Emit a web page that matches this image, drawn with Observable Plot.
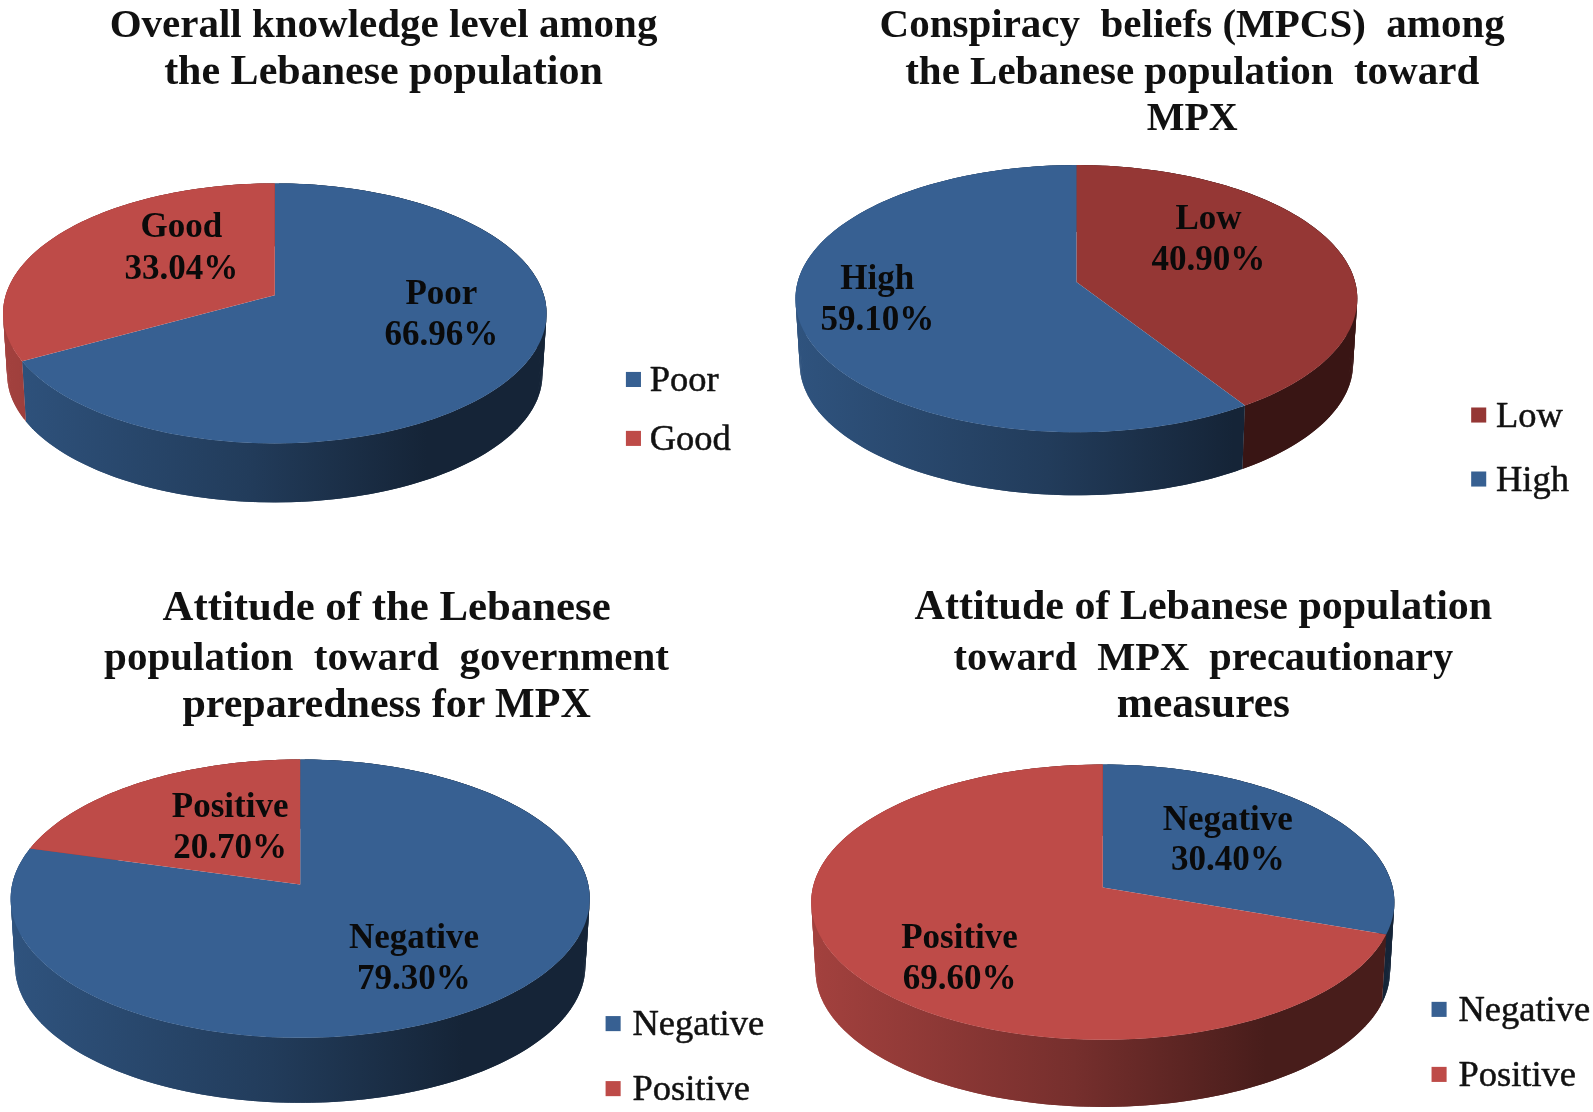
<!DOCTYPE html>
<html><head><meta charset="utf-8">
<script src="https://cdn.jsdelivr.net/npm/d3@7"></script>
<script src="https://cdn.jsdelivr.net/npm/@observablehq/plot@0.6"></script>
<style>html,body{margin:0;padding:0;background:#fff}svg{display:block;filter:blur(.7px)}</style>
</head><body><script>
// ---- data ----
const knowledgeCats = ["Poor", "Good"];
const knowledgeVals = [66.96, 33.04];
const conspiracyCats = ["Low", "High"];
const conspiracyVals = [40.90, 59.10];
const governmentCats = ["Negative", "Positive"];
const governmentVals = [79.30, 20.70];
const precautionCats = ["Negative", "Positive"];
const precautionVals = [30.40, 69.60];
const titles = [
  ["Overall knowledge level among", "the Lebanese population"],
  ["Conspiracy  beliefs (MPCS)  among", "the Lebanese population  toward", "MPX"],
  ["Attitude of the Lebanese", "population  toward  government", "preparedness for MPX"],
  ["Attitude of Lebanese population", "toward  MPX  precautionary", "measures"]
];
// ---- layout (in a 1568-wide design space) ----
const W = 1568, H = 1094.5;
const BLUE = "#376092", RED = "#be4b48", DARKRED = "#953735";
const layout = [
  {cats: knowledgeCats, vals: knowledgeVals, colors: [BLUE, RED],
   left: 2, right: 537, top: 180, ax: 270, ay: 290, front: 436, bottom: 494,
   titleX: 377, titleY: [23, 69], titleSize: [41, 42],
   labels: [[434, 288, 328], [178, 222, 263]],
   swatchX: 623, textX: 639, legendY: [373, 431], legendOrder: [0, 1]},
  {cats: conspiracyCats, vals: conspiracyVals, colors: [DARKRED, BLUE],
   left: 782, right: 1335, top: 162, ax: 1059, ay: 277, front: 425, bottom: 487,
   titleX: 1173, titleY: [23, 69, 115], titleSize: [41, 41, 40],
   labels: [[1189, 214, 254], [863, 273, 313]],
   swatchX: 1455, textX: 1472, legendY: [408, 471], legendOrder: [0, 1]},
  {cats: governmentCats, vals: governmentVals, colors: [BLUE, RED],
   left: 10, right: 580, top: 747, ax: 295, ay: 870, front: 1021, bottom: 1085,
   titleX: 380, titleY: [596, 646, 692], titleSize: [42.8, 41, 42],
   labels: [[407, 922, 962], [226, 793, 833]],
   swatchX: 603, textX: 622, legendY: [1007, 1071], legendOrder: [0, 1]},
  {cats: precautionCats, vals: precautionVals, colors: [BLUE, RED],
   left: 798, right: 1372, top: 752, ax: 1085, ay: 873, front: 1023, bottom: 1089,
   titleX: 1184, titleY: [596, 646, 692], titleSize: [42, 40.4, 43.5],
   labels: [[1208, 805, 845], [944, 922, 962]],
   swatchX: 1416, textX: 1435, legendY: [993, 1057], legendOrder: [0, 1]}
];
const wallStops = [[0, .86], [.45, .62], [.78, .38], [1, .38]];
const ringShrink = .985;

// perspective projection of a point on the pie's rim
function projector(p) {
  const up = p.ay - p.top, down = p.front - p.ay;
  const k = (down - up) / (down + up), B = up * (1 + k);
  const A = (p.right - p.left) / 2 * Math.sqrt(1 - k * k);
  const depth = p.bottom - p.ay - ringShrink * down;
  return (deg, lower) => {
    const t = deg * Math.PI / 180, u = Math.sin(t), v = Math.cos(t), w = 1 + k * v;
    const s = lower ? ringShrink : 1;
    return {x: p.ax + s * A * u / w, y: p.ay + (lower ? depth : 0) - s * B * v / w};
  };
}
const gradients = [];
const walls = [], faces = [];
layout.forEach((p, pi) => {
  const proj = projector(p);
  const total = d3.sum(p.vals);
  let a0 = 0;
  p.vals.forEach((val, i) => {
    const a1 = a0 + val / total * 360;
    const angles = d3.range(a0, a1, 1).concat([a1]);
    const id = `wall-${pi}-${i}`;
    gradients.push({id, color: p.colors[i], x1: p.left, x2: p.right});
    // the wall is a run of small overlapping quads, so that it also fills the silhouette
    const quads = d3.range(angles.length - 1).flatMap(q => {
      const s = angles[q], e = angles[Math.min(q + 2, angles.length - 1)];
      return [proj(s, false), proj(e, false), proj(e, true), proj(s, true), proj(s, false)].map(pt => ({...pt, q}));
    });
    walls.push(Plot.line(quads, {x: "x", y: "y", z: "q", fill: `url(#${id})`, stroke: "none"}));
    const wedge = [{x: p.ax, y: p.ay}, ...angles.map(a => proj(a, false)), {x: p.ax, y: p.ay}];
    faces.push(Plot.line(wedge, {x: "x", y: "y", fill: p.colors[i], stroke: "none"}));
    a0 = a1;
  });
});
const defsMark = (index, {x}) => {
  const defs = d3.create("svg:defs");
  for (const g of gradients) {
    const lg = defs.append("linearGradient").attr("id", g.id).attr("gradientUnits", "userSpaceOnUse")
      .attr("x1", x(g.x1)).attr("x2", x(g.x2)).attr("y1", 0).attr("y2", 0);
    for (const [o, m] of wallStops) {
      const c = d3.rgb(g.color);
      lg.append("stop").attr("offset", o).attr("stop-color", d3.rgb(c.r * m, c.g * m, c.b * m).formatHex());
    }
  }
  return defs.node();
};
const SERIF = "'Liberation Serif','Times New Roman',serif";
const titleRows = layout.flatMap((p, i) => titles[i].map((t, j) => ({t, x: p.titleX, y: p.titleY[j], s: p.titleSize[j]})));
const labelRows = layout.flatMap(p => p.cats.flatMap((c, i) => [
  {t: c, x: p.labels[i][0], y: p.labels[i][1]},
  {t: p.vals[i].toFixed(2) + "%", x: p.labels[i][0], y: p.labels[i][2]}
]));
const legendRows = layout.flatMap(p => p.legendOrder.map((i, r) => ({
  t: p.cats[i], c: p.colors[i], sx: p.swatchX, tx: p.textX, y: p.legendY[r]
})));
const chart = Plot.plot({
  width: 1593, height: 1112,
  margin: 0,
  x: {domain: [0, W], range: [0, 1593], axis: null},
  y: {domain: [0, H], range: [0, 1112], axis: null},
  style: {background: "#fff"},
  marks: [
    defsMark,
    ...walls,
    ...faces,
    Plot.text(titleRows, {x: "x", y: "y", text: "t", fontFamily: SERIF, fontWeight: "bold", fontSize: "s", fill: "#111"}),
    Plot.text(labelRows, {x: "x", y: "y", text: "t", fontFamily: SERIF, fontWeight: "bold", fontSize: 35, fill: "#0a0a0a"}),
    Plot.dot(legendRows, {x: "sx", y: "y", symbol: "square", r: 8.5, fill: d => d.c, stroke: "none"}),
    Plot.text(legendRows, {x: "tx", y: "y", text: "t", textAnchor: "start", fontFamily: SERIF, fontSize: 36.5, fill: "#111", stroke: "#111", strokeWidth: .5})
  ]
});
document.body.appendChild(chart);
</script></body></html>
